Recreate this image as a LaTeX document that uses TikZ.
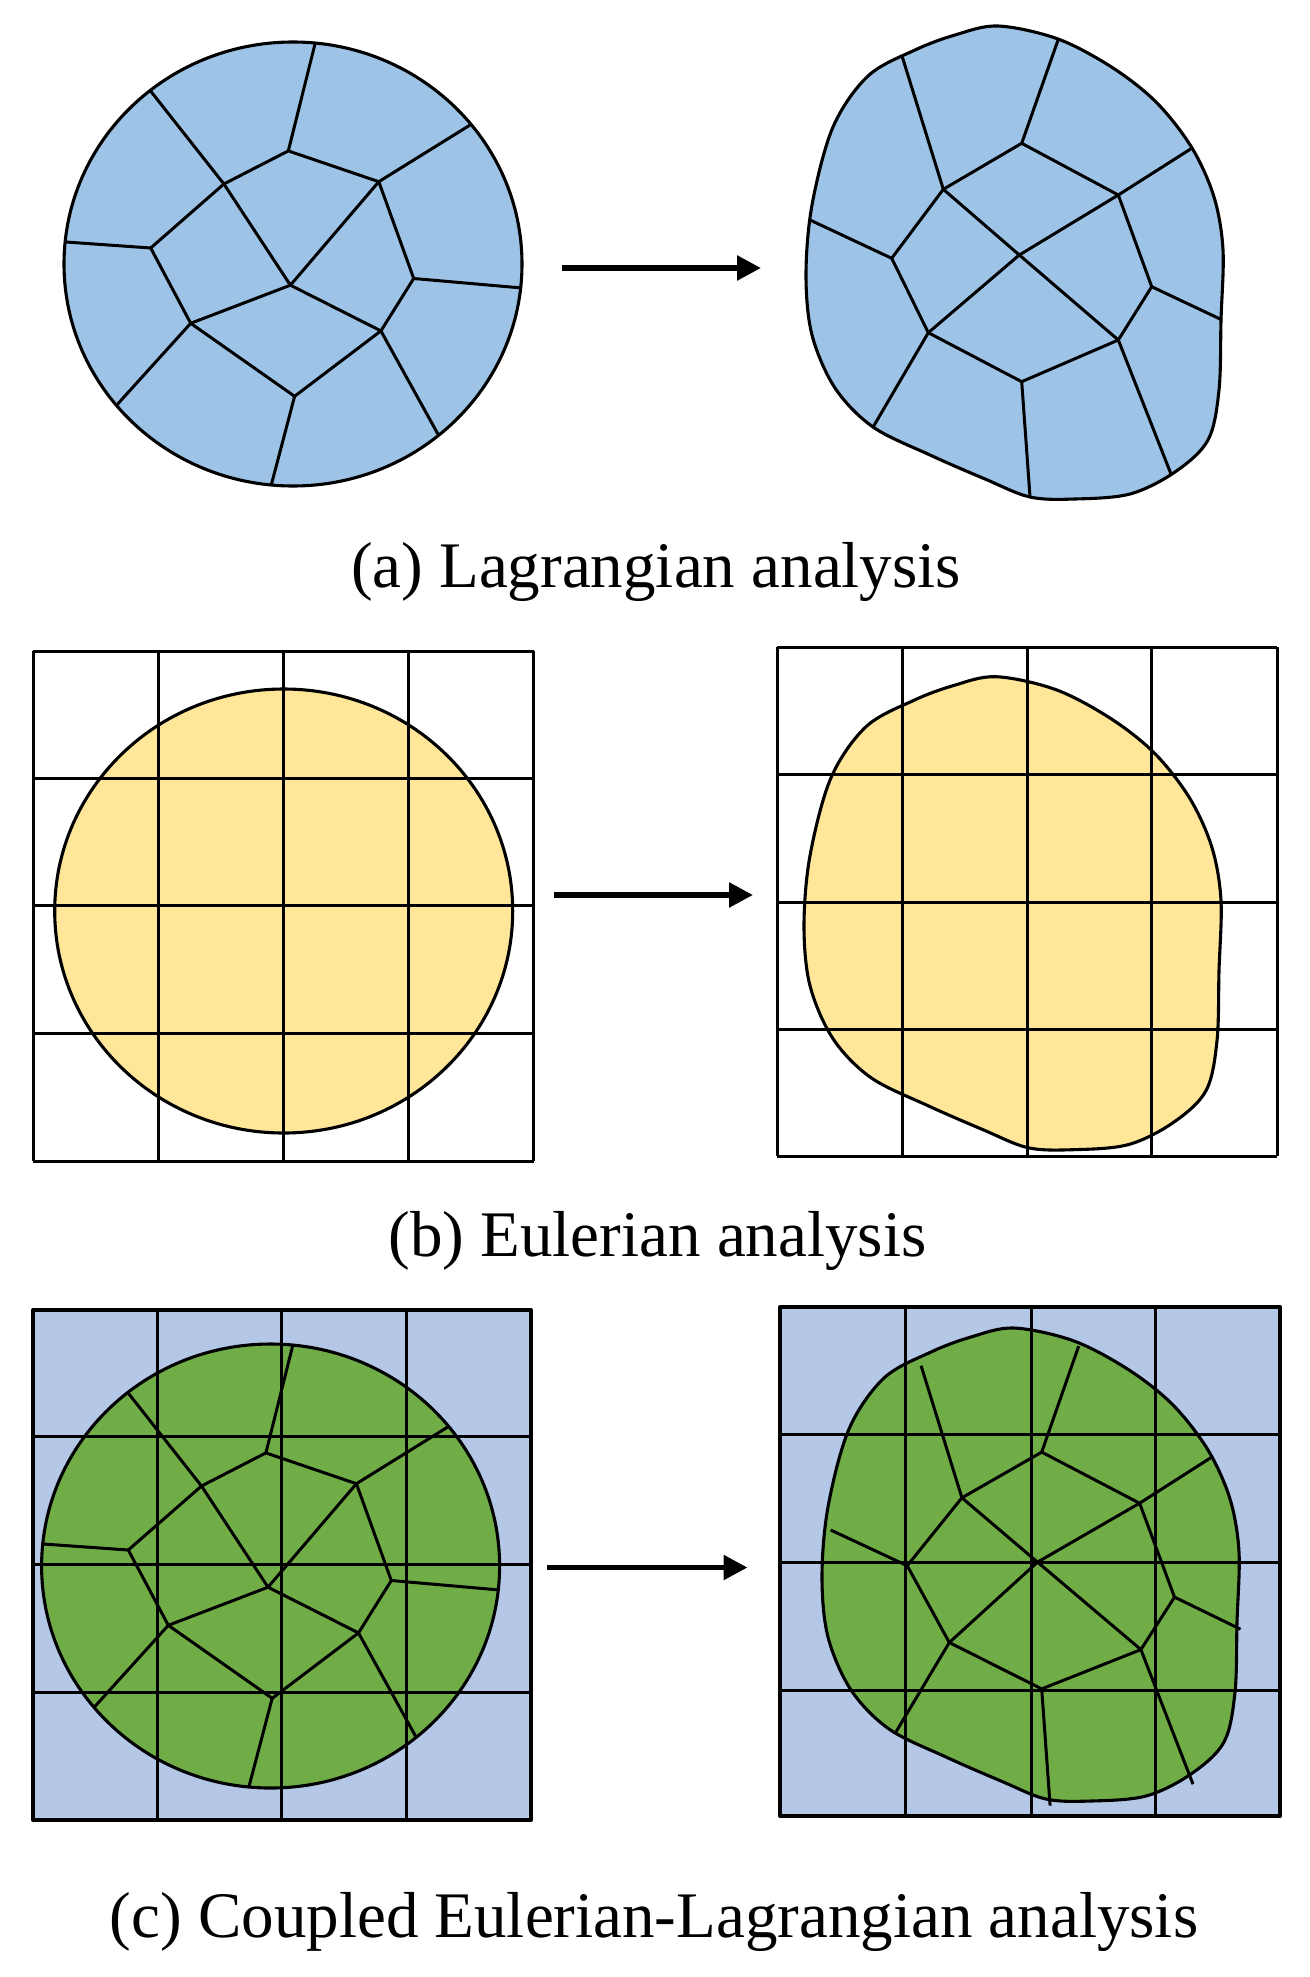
\documentclass[tikz,border=0pt]{standalone}
\usepackage{fontspec}
\setmainfont{Liberation Serif}
\usetikzlibrary{arrows.meta,calc}
\definecolor{lagblue}{HTML}{9DC3E6}
\definecolor{eulyellow}{HTML}{FFE699}
\definecolor{celgreen}{HTML}{70AD47}
\definecolor{celbg}{HTML}{B4C7E7}

% circle-shaped body (centred at origin)
\newcommand\circshape[1]{\path[#1] (0,0) ellipse [x radius=229pt, y radius=222pt];}
% deformed body (in panel (a) frame)
\newcommand\blobshape[1]{\path[#1] plot[smooth cycle, tension=0.55] coordinates {
 (998,26) (1058,39) (1113,68) (1157,103) (1192,148) (1214,197) (1223,250)
 (1221,320) (1219,390) (1208,440) (1175,472) (1130,494) (1075,499) (1030,497)
 (985,479) (930,455) (873,427) (835,388) (812,335) (806,275) (812,205)
 (833,127) (868,76) (915,50) (955,35)};}

% mesh vertices of the circular body (relative to its centre)
\newcommand\defcircmesh[1]{%
 \coordinate (#1A) at (-4.7,-113.1);
 \coordinate (#1B) at (85.8,-82.3);
 \coordinate (#1C) at (-69.1,-80);
 \coordinate (#1D) at (-142.3,-16);
 \coordinate (#1E) at (-2.6,21.2);
 \coordinate (#1F) at (120.7,14.5);
 \coordinate (#1G) at (-102.3,59.3);
 \coordinate (#1H) at (87.9,66.9);
 \coordinate (#1I) at (1.6,132.3);
 \coordinate (#1A-o) at (21.8,-219.2);
 \coordinate (#1B-o) at (175.5,-138);
 \coordinate (#1C-o) at (-143.6,-174.5);
 \coordinate (#1D-o) at (-225.7,-21.9);
 \coordinate (#1F-o) at (226.8,23.8);
 \coordinate (#1G-o) at (-174.3,138.9);
 \coordinate (#1H-o) at (144.7,169.7);
 \coordinate (#1I-o) at (-21.5,220.1);}

% draw a mesh: #1 prefix, #2 spoke extension factor
\newcommand\drawmesh[2]{%
 \draw[meshline] (#1A) -- (#1B) -- (#1F) -- (#1H) -- (#1I) -- (#1G) -- (#1D) -- (#1C) -- cycle;
 \draw[meshline] (#1C) -- (#1E) -- (#1B) (#1G) -- (#1E) -- (#1H);
 \foreach \vv in {A,B,C,D,F,G,H,I} \draw[meshline] (#1\vv) -- ($(#1\vv)!#2!(#1\vv-o)$);}

\begin{document}
\begin{tikzpicture}[x=1pt,y=-1pt,line join=round,
  meshline/.style={line width=3pt},
  outline/.style={line width=3.1pt},
  gridline/.style={line width=3pt},
  flowarrow/.style={line width=5.5pt,-{Triangle[length=24pt,width=24pt]}},
  caption/.style={font=\fontsize{65}{78}\selectfont, anchor=base, inner sep=0pt}]

\useasboundingbox (0,0) rectangle (1309,1977);

%%%%%%%% (a) Lagrangian
\begin{scope}[shift={(293,264)}]
 \circshape{fill=lagblue}
 \defcircmesh{la}
 \begin{scope}
  \circshape{clip}
  \drawmesh{la}{1.08}
 \end{scope}
 \circshape{draw,outline}
\end{scope}

\begin{scope}
 \blobshape{fill=lagblue}
 \coordinate (raA) at (1021.7,143.3);
 \coordinate (raB) at (1118.3,195);
 \coordinate (raC) at (943.3,189.3);
 \coordinate (raD) at (891.7,258.3);
 \coordinate (raE) at (1019.3,255);
 \coordinate (raF) at (1151.7,286.7);
 \coordinate (raG) at (928.3,332.7);
 \coordinate (raH) at (1118.3,340);
 \coordinate (raI) at (1021.7,381.7);
 \coordinate (raA-o) at (1058.3,39.3);
 \coordinate (raB-o) at (1191.7,148.3);
 \coordinate (raC-o) at (901.7,55);
 \coordinate (raD-o) at (810,220);
 \coordinate (raF-o) at (1220.7,319.3);
 \coordinate (raG-o) at (873.3,426.7);
 \coordinate (raH-o) at (1170.7,473.3);
 \coordinate (raI-o) at (1030,496.7);
 \begin{scope}
  \blobshape{clip}
  \drawmesh{ra}{1.1}
 \end{scope}
 \blobshape{draw,outline}
\end{scope}

\coordinate (arrA1) at (562,268);
\coordinate (arrA2) at (761,268);
\draw[flowarrow] (arrA1) -- (arrA2);
\node[caption] (capa) at (656,587) {(a) Lagrangian analysis};

%%%%%%%% (b) Eulerian
\begin{scope}[shift={(283.7,911)}]
 \circshape{fill=eulyellow}
\end{scope}
\foreach \gx in {33,158.5,283,408,533.5} \draw[gridline] (\gx,651) -- (\gx,1161);
\foreach \gy in {651,778,905,1033,1161} \draw[gridline] (33,\gy) -- (533.5,\gy);
\begin{scope}[shift={(283.7,911)}]
 \circshape{draw,outline}
\end{scope}

\begin{scope}[shift={(-2,650.7)}]
 \blobshape{fill=eulyellow}
\end{scope}
\foreach \gx in {777,902,1027,1151.5,1277} \draw[gridline] (\gx,647) -- (\gx,1156);
\foreach \gy in {647,774.5,902,1029.6,1156} \draw[gridline] (777,\gy) -- (1277,\gy);
\begin{scope}[shift={(-2,650.7)}]
 \blobshape{draw,outline}
\end{scope}

\coordinate (arrB1) at (553.5,895);
\coordinate (arrB2) at (753,895);
\draw[flowarrow] (arrB1) -- (arrB2);
\node[caption] (capb) at (657.5,1256) {(b) Eulerian analysis};

%%%%%%%% (c) Coupled Eulerian-Lagrangian
\fill[celbg] (33,1310) rectangle (531,1820);
\begin{scope}[shift={(270.6,1566)}]
 \circshape{fill=celgreen}
\end{scope}
\foreach \gx in {157,281,406} \draw[gridline] (\gx,1310) -- (\gx,1820);
\foreach \gy in {1436,1564,1692.5} \draw[gridline] (33,\gy) -- (531,\gy);
\draw[line width=4pt] (33,1310) rectangle (531,1820);
\begin{scope}[shift={(270.6,1566)}]
 \defcircmesh{lc}
 \begin{scope}
  \circshape{clip}
  \drawmesh{lc}{1.08}
 \end{scope}
 \circshape{draw,outline}
\end{scope}

\fill[celbg] (780,1307) rectangle (1280,1816);
\begin{scope}[shift={(16,1302)}]
 \blobshape{fill=celgreen}
\end{scope}
\foreach \gx in {905,1031,1155} \draw[gridline] (\gx,1307) -- (\gx,1816);
\foreach \gy in {1434,1562,1690} \draw[gridline] (780,\gy) -- (1280,\gy);
\draw[line width=4pt] (780,1307) rectangle (1280,1816);
\begin{scope}[shift={(16,1302)}]
 \blobshape{draw,outline}
\end{scope}
\coordinate (rcA) at (1041.7,1452.1);
\coordinate (rcB) at (1139.6,1503.2);
\coordinate (rcC) at (961.9,1497.8);
\coordinate (rcD) at (907.2,1565.7);
\coordinate (rcE) at (1037.5,1562.1);
\coordinate (rcF) at (1174.5,1597.1);
\coordinate (rcG) at (949.3,1642.5);
\coordinate (rcH) at (1140.9,1649.6);
\coordinate (rcI) at (1041.7,1688.9);
\coordinate (rcA-o) at (1078.7,1346.1);
\coordinate (rcB-o) at (1211.1,1457.5);
\coordinate (rcC-o) at (921.1,1365.7);
\coordinate (rcD-o) at (830.7,1530);
\coordinate (rcF-o) at (1240.5,1629.2);
\coordinate (rcG-o) at (894.6,1734.2);
\coordinate (rcH-o) at (1193,1784.2);
\coordinate (rcI-o) at (1050.1,1805.6);
\drawmesh{rc}{1}

\coordinate (arrC1) at (547,1567.5);
\coordinate (arrC2) at (747.5,1567.5);
\draw[flowarrow] (arrC1) -- (arrC2);
\node[caption] (capc) at (654,1937) {(c) Coupled Eulerian-Lagrangian analysis};
\end{tikzpicture}
\end{document}
